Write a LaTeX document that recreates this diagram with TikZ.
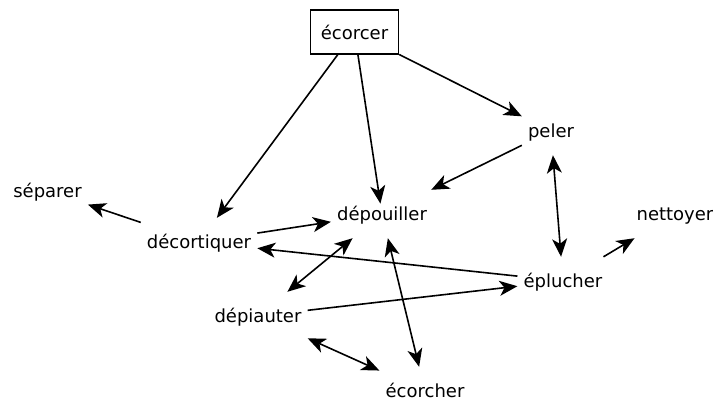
\documentclass[tikz,border=0pt]{standalone}
\usepackage{fontspec}
\setmainfont{DejaVu Sans}
\usetikzlibrary{arrows.meta}
\begin{document}
\begin{tikzpicture}[x=1pt,y=-1pt,
  word/.style={rectangle, inner xsep=6pt, inner ysep=0pt, minimum height=48pt,
    text height=12pt, text depth=0pt, font=\fontsize{18}{20}\selectfont},
  boxed/.style={draw, line width=1.3pt, minimum width=88pt, minimum height=44pt,
    inner sep=0pt, text height=14pt, text depth=0pt, font=\fontsize{18}{20}\selectfont},
  arr/.style={line width=1.6pt, -{Stealth[length=18pt,width=15pt,inset=5pt]}},
  darr/.style={line width=1.6pt, {Stealth[length=18pt,width=15pt,inset=5pt]}-{Stealth[length=18pt,width=15pt,inset=5pt]}}
]
\useasboundingbox (0,0) rectangle (713,400);
\node[boxed] (ecorcer) at (354.5,32) {écorcer};
\node[word] (peler) at (551,131) {peler};
\node[word] (separer) at (47.5,191) {séparer};
\node[word] (depouiller) at (382,214) {dépouiller};
\node[word] (nettoyer) at (675,214) {nettoyer};
\node[word] (decortiquer) at (199,242) {décortiquer};
\node[word] (eplucher) at (563,281) {éplucher};
\node[word] (depiauter) at (258,316) {dépiauter};
\node[word] (ecorcher) at (425,391) {écorcher};

\draw[arr] (ecorcer) -- (peler);
\draw[arr] (ecorcer) -- (decortiquer);
\draw[arr, shorten >=-14pt] (ecorcer) -- (depouiller);
\draw[arr] (peler) -- (depouiller);
\draw[darr] (peler) -- (eplucher);
\draw[arr] (eplucher) -- (nettoyer);
\draw[arr] (decortiquer) -- (separer);
\draw[arr] (decortiquer) -- (depouiller);
\draw[arr] (eplucher) -- (decortiquer);
\draw[darr] (depouiller) -- (depiauter);
\draw[arr] (depiauter) -- (eplucher);
\draw[darr] (depouiller) -- (ecorcher);
\draw[darr] (depiauter) -- (ecorcher);
\end{tikzpicture}
\end{document}
